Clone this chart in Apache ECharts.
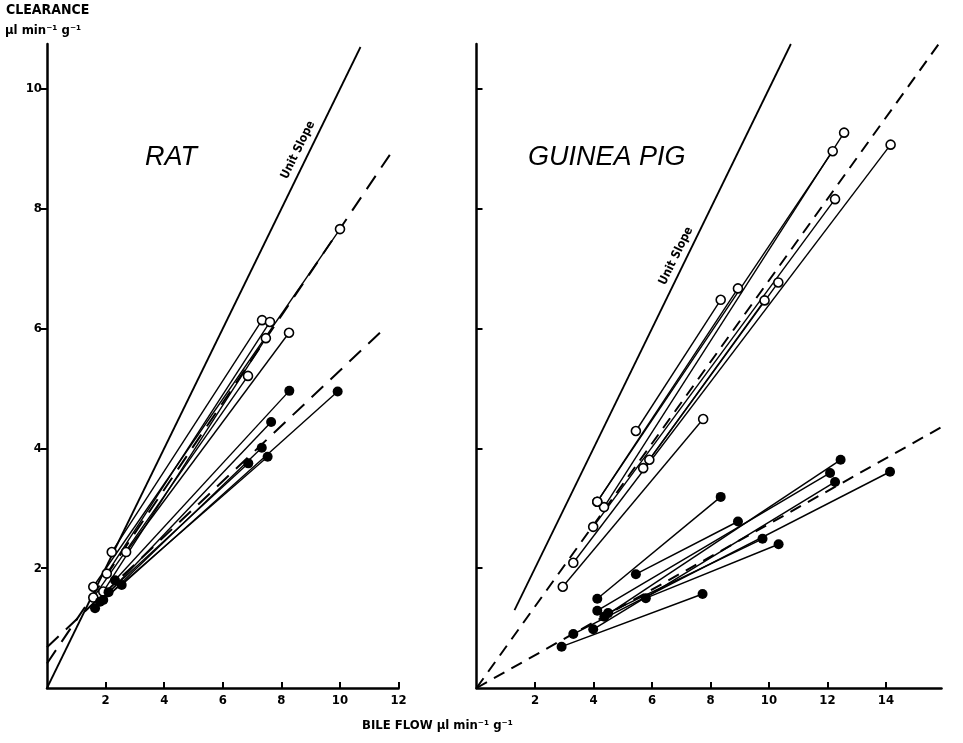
<!DOCTYPE html>
<html>
<head>
<meta charset="utf-8">
<script src="https://cdn.jsdelivr.net/npm/echarts@6/dist/echarts.min.js"></script>
<style>html,body{margin:0;padding:0;background:#fff;}#c{width:963px;height:743px;}</style>
</head>
<body>
<div id="c"></div>
<script>
// ---- tick labels ----
const ratXTicks = [2, 4, 6, 8, 10, 12];
const gpXTicks = [2, 4, 6, 8, 10, 12, 14];
const yTicks = [2, 4, 6, 8, 10];

// ---- RAT: each animal = [low point, high point] ----
const ratOpen = [
  [[2.21, 2.27], [7.34, 6.14]],
  [[2.70, 2.27], [8.26, 5.93]],
  [[2.04, 1.91], [7.61, 6.11]],
  [[1.58, 1.69], [10.0, 7.66]],
  [[1.92, 1.61], [7.47, 5.84]],
  [[1.58, 1.51], [6.86, 5.21]]
];
const ratFilled = [
  [[2.32, 1.80], [8.27, 4.96]],
  [[2.55, 1.72], [9.92, 4.95]],
  [[1.81, 1.44], [7.65, 4.44]],
  [[1.64, 1.33], [7.33, 4.01]],
  [[1.92, 1.47], [7.53, 3.86]],
  [[2.10, 1.60], [6.87, 3.75]]
];
const ratUnit = [[0, 0], [10.7, 10.7]];
const ratDashOpen = [[0, 0.41], [11.7, 8.9]];
const ratDashFilled = [[0, 0.68], [11.6, 6.04]];

// ---- GUINEA PIG ----
const gpOpen = [
  [[2.95, 1.69], [7.75, 4.49]],
  [[3.31, 2.09], [14.16, 9.07]],
  [[3.99, 2.69], [12.26, 8.16]],
  [[4.13, 3.11], [12.18, 8.96]],
  [[4.36, 3.02], [12.57, 9.27]],
  [[4.13, 3.11], [8.94, 6.67]],
  [[5.45, 4.29], [8.35, 6.48]],
  [[5.70, 3.67], [9.85, 6.47]],
  [[5.91, 3.81], [10.32, 6.77]]
];
const gpFilled = [
  [[2.91, 0.69], [7.73, 1.57]],
  [[3.31, 0.90], [14.14, 3.61]],
  [[3.99, 0.98], [12.26, 3.44]],
  [[4.13, 1.29], [12.09, 3.59]],
  [[4.37, 1.19], [12.45, 3.81]],
  [[4.13, 1.49], [8.35, 3.19]],
  [[5.45, 1.90], [8.94, 2.78]],
  [[5.79, 1.50], [10.33, 2.40]],
  [[4.50, 1.25], [9.78, 2.49]]
];
const gpUnit = [[1.3, 1.3], [10.75, 10.75]];
const gpDashOpen = [[0, 0], [15.95, 10.85]];
const gpDashFilled = [[0, 0], [16.65, 4.56]];

const BOLD = "'DejaVu Sans Condensed','Liberation Sans Narrow','DejaVu Sans',sans-serif";

function xAxisCfg(idx, max, ticks) {
  return {
    type: 'value', gridIndex: idx, min: 0, max: max,
    axisLine: { lineStyle: { color: '#000', width: 2.5 } },
    axisTick: { inside: true, length: 6, lineStyle: { color: '#000', width: 2 }, customValues: ticks },
    axisLabel: { customValues: ticks, color: '#000', fontFamily: BOLD, fontWeight: 'bold', fontSize: 13, margin: 6 },
    splitLine: { show: false }
  };
}
function yAxisCfg(idx, showLabels) {
  return {
    type: 'value', gridIndex: idx, min: 0, max: 10.75,
    axisLine: { show: true, lineStyle: { color: '#000', width: 2.5 } },
    axisTick: { show: true, inside: !showLabels, length: 6, lineStyle: { color: '#000', width: 2 }, customValues: yTicks },
    axisLabel: { show: showLabels, customValues: yTicks, color: '#000', fontFamily: BOLD, fontWeight: 'bold', fontSize: 13, margin: 5 },
    splitLine: { show: false }
  };
}

const series = [];
function addRef(idx, data, dashed, width, dash) {
  series.push({
    type: 'line', xAxisIndex: idx, yAxisIndex: idx, data: data, symbol: 'none', clip: false,
    lineStyle: { color: '#000', width: width, type: dashed ? dash : 'solid' }, z: 2
  });
}
function addSegs(idx, segs, open, size, width) {
  segs.forEach(function (s) {
    series.push({
      type: 'line', xAxisIndex: idx, yAxisIndex: idx, data: s, symbol: 'circle', symbolSize: size,
      lineStyle: { color: '#000', width: width },
      itemStyle: open ? { color: '#fff', borderColor: '#000', borderWidth: 1.6 } : { color: '#000', borderColor: '#000', borderWidth: 0 },
      z: 3
    });
  });
}
addRef(0, ratUnit, false, 1.8);
addRef(0, ratDashOpen, true, 2, [16, 10]);
addRef(0, ratDashFilled, true, 2, [16, 10]);
addRef(1, gpUnit, false, 1.8);
addRef(1, gpDashOpen, true, 2, [12, 8]);
addRef(1, gpDashFilled, true, 2, [12, 8]);
addSegs(0, ratOpen, true, 9, 1.4);
addSegs(0, ratFilled, false, 10, 1.4);
addSegs(1, gpOpen, true, 9, 1.4);
addSegs(1, gpFilled, false, 10, 1.5);

const chart = echarts.init(document.getElementById('c'), null, { renderer: 'canvas' });
chart.setOption({
  animation: false,
  backgroundColor: '#fff',
  grid: [
    { left: 47, top: 44, width: 351.6, height: 644 },
    { left: 476.5, top: 44, width: 465, height: 644 }
  ],
  xAxis: [xAxisCfg(0, 12, ratXTicks), xAxisCfg(1, 15.9, gpXTicks)],
  yAxis: [yAxisCfg(0, true), yAxisCfg(1, false)],
  series: series,
  graphic: [
    { type: 'text', left: 6, top: 3, style: { text: 'CLEARANCE', font: 'bold 14px ' + BOLD, fill: '#000' } },
    { type: 'text', left: 5, top: 24, style: { text: 'µl min⁻¹ g⁻¹', font: 'bold 13px ' + BOLD, fill: '#000' } },
    { type: 'text', left: 362, top: 719, style: { text: 'BILE FLOW µl min⁻¹ g⁻¹', font: 'bold 13px ' + BOLD, fill: '#000' } },
    { type: 'text', left: 145, top: 144, style: { text: 'RAT', font: 'italic 27px "Liberation Sans",sans-serif', fill: '#000' } },
    { type: 'text', left: 528, top: 144, style: { text: 'GUINEA PIG', font: 'italic 27px "Liberation Sans",sans-serif', fill: '#000' } },
    { type: 'text', x: 298, y: 150, rotation: 1.115, style: { text: 'Unit Slope', font: 'bold 12px ' + BOLD, fill: '#000', align: 'center', verticalAlign: 'middle' } },
    { type: 'text', x: 676, y: 256, rotation: 1.115, style: { text: 'Unit Slope', font: 'bold 12px ' + BOLD, fill: '#000', align: 'center', verticalAlign: 'middle' } }
  ]
});
</script>
</body>
</html>
